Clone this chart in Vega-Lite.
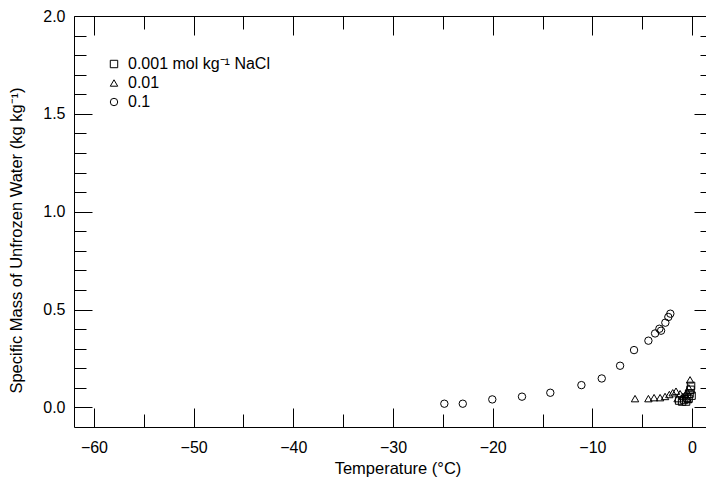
{
  "$schema": "https://vega.github.io/schema/vega-lite/v6.json",
  "width": 638,
  "height": 411,
  "autosize": "none",
  "padding": {"left": 74, "top": 16, "right": 0, "bottom": 55},
  "background": "white",
  "config": {"font": "Liberation Sans", "view": {"stroke": null}},
  "data": {
    "values": [
      {"c": "0.1", "t": -24.85, "w": 0.019},
      {"c": "0.1", "t": -23.0, "w": 0.019},
      {"c": "0.1", "t": -20.04, "w": 0.041},
      {"c": "0.1", "t": -17.06, "w": 0.055},
      {"c": "0.1", "t": -14.22, "w": 0.075},
      {"c": "0.1", "t": -11.1, "w": 0.114},
      {"c": "0.1", "t": -9.06, "w": 0.148},
      {"c": "0.1", "t": -7.22, "w": 0.213},
      {"c": "0.1", "t": -5.82, "w": 0.293},
      {"c": "0.1", "t": -4.38, "w": 0.341},
      {"c": "0.1", "t": -3.71, "w": 0.378},
      {"c": "0.1", "t": -3.28, "w": 0.402},
      {"c": "0.1", "t": -3.11, "w": 0.392},
      {"c": "0.1", "t": -2.68, "w": 0.433},
      {"c": "0.1", "t": -2.38, "w": 0.462},
      {"c": "0.1", "t": -2.18, "w": 0.479},
      {"c": "0.01", "t": -5.72, "w": 0.045},
      {"c": "0.01", "t": -4.38, "w": 0.045},
      {"c": "0.01", "t": -3.81, "w": 0.05},
      {"c": "0.01", "t": -3.21, "w": 0.05},
      {"c": "0.01", "t": -2.71, "w": 0.056},
      {"c": "0.01", "t": -2.28, "w": 0.066},
      {"c": "0.01", "t": -1.94, "w": 0.075},
      {"c": "0.01", "t": -1.61, "w": 0.083},
      {"c": "0.01", "t": -1.45, "w": 0.045},
      {"c": "0.01", "t": -1.2, "w": 0.07},
      {"c": "0.01", "t": -0.93, "w": 0.056},
      {"c": "0.01", "t": -0.67, "w": 0.066},
      {"c": "0.01", "t": -0.47, "w": 0.078},
      {"c": "0.01", "t": -0.4, "w": 0.04},
      {"c": "0.01", "t": -0.33, "w": 0.1},
      {"c": "0.01", "t": -0.2, "w": 0.141},
      {"c": "0.001 mol kg⁻¹ NaCl", "t": -1.3, "w": 0.035},
      {"c": "0.001 mol kg⁻¹ NaCl", "t": -1.0, "w": 0.03},
      {"c": "0.001 mol kg⁻¹ NaCl", "t": -0.8, "w": 0.04},
      {"c": "0.001 mol kg⁻¹ NaCl", "t": -0.6, "w": 0.03},
      {"c": "0.001 mol kg⁻¹ NaCl", "t": -0.5, "w": 0.05},
      {"c": "0.001 mol kg⁻¹ NaCl", "t": -0.35, "w": 0.045},
      {"c": "0.001 mol kg⁻¹ NaCl", "t": -0.25, "w": 0.07},
      {"c": "0.001 mol kg⁻¹ NaCl", "t": -0.15, "w": 0.09},
      {"c": "0.001 mol kg⁻¹ NaCl", "t": -0.1, "w": 0.11},
      {"c": "0.001 mol kg⁻¹ NaCl", "t": -0.05, "w": 0.06}
    ]
  },
  "layer": [
    {
      "mark": {"type": "point", "filled": false, "color": "black", "strokeWidth": 1, "opacity": 1, "size": 55},
      "encoding": {
        "x": {
          "field": "t", "type": "quantitative",
          "scale": {"domain": [-62, 2], "nice": false, "zero": false},
          "axis": {
            "orient": "bottom",
            "values": [-60, -55, -50, -45, -40, -35, -30, -25, -20, -15, -10, -5, 0],
            "title": "Temperature (°C)",
            "titleFontSize": 16.5, "titleFontWeight": "normal", "titleColor": "black", "titlePadding": -1,
            "titleX": 323.5,
            "labelFontSize": 16, "labelColor": "black", "labelFlush": false, "labelOverlap": false,
            "labelExpr": "datum.value % 10 === 0 ? datum.label : ''",
            "tickSize": {"condition": {"test": "datum.value % 10 === 0", "value": -19}, "value": -13},
            "labelPadding": 31,
            "tickColor": "black", "tickWidth": 1, "domainColor": "black", "domainWidth": 1, "grid": false
          }
        },
        "y": {
          "field": "w", "type": "quantitative",
          "scale": {"domain": [-0.1, 2.0], "nice": false, "zero": false},
          "axis": {
            "orient": "left",
            "values": [0, 0.1, 0.2, 0.3, 0.4, 0.5, 0.6, 0.7, 0.8, 0.9, 1.0, 1.1, 1.2, 1.3, 1.4, 1.5, 1.6, 1.7, 1.8, 1.9, 2.0],
            "title": "Specific Mass of Unfrozen Water (kg kg⁻¹)",
            "titleFontSize": 16.5, "titleFontWeight": "normal", "titleColor": "black",
            "titleX": -50, "titleY": 224,
            "labelFontSize": 16, "labelColor": "black", "labelFlush": false, "labelOverlap": false,
            "labelExpr": "abs(round(datum.value * 10)) % 5 === 0 ? format(datum.value, '.1f') : ''",
            "tickSize": {"condition": {"test": "abs(round(datum.value * 10)) % 5 === 0", "value": -18}, "value": -12},
            "labelPadding": 27,
            "tickColor": "black", "tickWidth": 1, "domainColor": "black", "domainWidth": 1, "grid": false
          }
        },
        "shape": {
          "field": "c", "type": "nominal",
          "scale": {"domain": ["0.001 mol kg⁻¹ NaCl", "0.01", "0.1"], "range": ["square", "triangle-up", "circle"]},
          "legend": {
            "orient": "none", "legendX": 32, "legendY": 40, "title": null,
            "labelFontSize": 16, "labelColor": "black", "labelOffset": 6,
            "symbolStrokeColor": "black", "symbolStrokeWidth": 1, "symbolSize": 55,
            "rowPadding": 3, "padding": 0
          }
        }
      }
    },
    {
      "mark": {"type": "point", "opacity": 0},
      "encoding": {
        "x": {
          "field": "t", "type": "quantitative",
          "axis": {
            "orient": "top",
            "values": [-60, -55, -50, -45, -40, -35, -30, -25, -20, -15, -10, -5, 0],
            "title": null, "labels": false,
            "tickSize": {"condition": {"test": "datum.value % 10 === 0", "value": -19}, "value": -13},
            "tickColor": "black", "tickWidth": 1, "domainColor": "black", "domainWidth": 1, "grid": false
          }
        },
        "y": {
          "field": "w", "type": "quantitative",
          "axis": {
            "orient": "right",
            "values": [0, 0.1, 0.2, 0.3, 0.4, 0.5, 0.6, 0.7, 0.8, 0.9, 1.0, 1.1, 1.2, 1.3, 1.4, 1.5, 1.6, 1.7, 1.8, 1.9, 2.0],
            "title": null, "labels": false,
            "tickSize": {"condition": {"test": "abs(round(datum.value * 10)) % 5 === 0", "value": -18}, "value": -12},
            "tickColor": "black", "tickWidth": 1, "domainColor": "black", "domainWidth": 1, "grid": false
          }
        }
      }
    }
  ],
  "resolve": {"axis": {"x": "independent", "y": "independent"}}
}
